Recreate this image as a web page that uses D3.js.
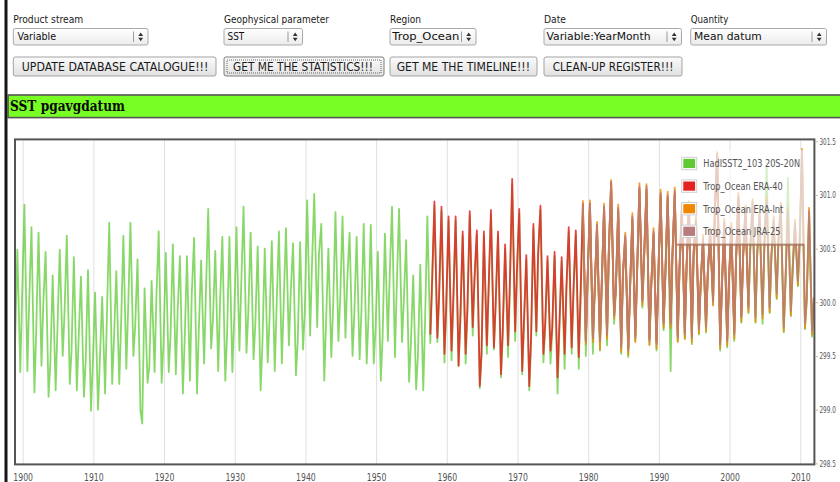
<!DOCTYPE html>
<html>
<head>
<meta charset="utf-8">
<script src="https://cdn.jsdelivr.net/npm/d3@7"></script>
<style>
  html, body { margin: 0; padding: 0; background: #fff; overflow: hidden; }
  svg { display: block; }
</style>
</head>
<body>
<svg id="page" width="840" height="482"></svg>
<script>
// ---------- texts ----------
const fieldLabels = ["Product stream", "Geophysical parameter", "Region", "Date", "Quantity"];
const fieldValues = ["Variable", "SST", "Trop_Ocean", "Variable:YearMonth", "Mean datum"];
const buttonLabels = ["UPDATE DATABASE CATALOGUE!!!", "GET ME THE STATISTICS!!!", "GET ME THE TIMELINE!!!", "CLEAN-UP REGISTER!!!"];
const panelTitle = "SST pgavgdatum";
const seriesNames = ["HadISST2_103 20S-20N", "Trop_Ocean ERA-40", "Trop_Ocean ERA-Int", "Trop_Ocean JRA-25"];

// ---------- axis ticks ----------
const yTicks = [298.5, 299.0, 299.5, 300.0, 300.5, 301.0, 301.5];
const xTickYears = [1900, 1910, 1920, 1930, 1940, 1950, 1960, 1970, 1980, 1990, 2000, 2010];
const xDomainStart = [1898, 11];   // year, month index
const xDomainEnd = [2012, 1];

// ---------- data: mean SST (K), one row per year = [April, September, December] ----------
const sampleMonths = [3, 8, 11];

const hadisstFirstYear = 1898;
const hadisst = [
  [null, null, 299.58],
  [300.49, 299.35, 300.04], [300.91, 299.36, 299.99], [300.70, 299.16, 299.72], [300.65, 299.41, 299.98], [300.47, 299.12, 299.43],
  [300.25, 299.18, 299.74], [300.49, 299.50, 299.89], [300.62, 299.24, 299.55], [300.42, 299.18, 299.65], [300.24, 299.12, 299.45],
  [300.30, 298.99, 299.41], [300.09, 299.00, 299.45], [300.05, 299.15, 299.87], [300.74, 299.24, 299.65], [300.29, 299.24, 299.77],
  [300.62, 299.38, 299.92], [300.74, 299.50, 299.77], [300.40, 298.99, 298.87], [300.13, 299.25, 299.40], [300.20, 299.35, 300.04],
  [300.66, 299.25, 299.60], [300.46, 299.35, 299.69], [300.54, 299.33, 299.90], [300.43, 299.15, 299.64], [300.43, 299.27, 300.06],
  [300.60, 299.15, 299.74], [300.39, 299.43, 300.06], [300.87, 299.57, 299.83], [300.48, 299.36, 299.98], [300.61, 299.27, 299.70],
  [300.61, 299.35, 299.83], [300.70, 299.55, 300.15], [300.89, 299.53, 299.89], [300.65, 299.47, 299.80], [300.52, 299.18, 299.61],
  [300.50, 299.44, 299.83], [300.57, 299.36, 299.94], [300.66, 299.43, 299.97], [300.69, 299.60, 300.08], [300.55, 299.32, 299.64],
  [300.56, 299.56, 299.92], [300.95, 299.69, 300.32], [301.01, 299.77, 300.45], [300.73, 299.27, 299.80], [300.50, 299.49, 299.94],
  [300.84, 299.64, 300.03], [300.80, 299.67, 300.20], [300.65, 299.50, 299.89], [300.61, 299.47, 299.90], [300.73, 299.43, 299.86],
  [300.72, 299.43, 299.75], [300.47, 299.27, 299.67], [300.64, 299.64, 300.23], [300.89, 299.49, 300.14], [300.87, 299.63, 300.01],
  [300.58, 299.26, 299.61], [300.25, 299.19, 299.50], [300.35, 299.18, 299.80], [300.80, 299.62, 300.12],
  [300.90, 299.63, 300.04], [300.85, 299.44, 299.92], [300.76, 299.46, 299.98], [300.76, 299.41, 299.82], [300.62, 299.43, 299.90],
  [300.81, 299.69, 300.18], [300.63, 299.20, 299.50], [300.62, 299.52, 300.10], [300.82, 299.56, 299.96], [300.62, 299.30, 299.70],
  [300.50, 299.49, 300.12], [301.10, 299.64, 300.24], [300.83, 299.33, 299.78], [300.40, 299.18, 299.61], [300.69, 299.69, 300.41],
  [300.86, 299.44, 299.75], [300.39, 299.43, 299.72], [300.43, 299.15, 299.72], [300.38, 299.38, 300.09], [300.66, 299.52, 300.07],
  [300.63, 299.38, 300.01], [300.88, 299.50, 300.18], [300.88, 299.52, 300.07], [300.68, 299.55, 300.13], [300.85, 299.60, 300.43],
  [301.08, 299.80, 300.09], [300.84, 299.52, 300.24], [300.58, 299.49, 300.09], [300.76, 299.64, 300.24], [301.04, 299.95, 300.40],
  [301.04, 299.61, 300.12], [300.62, 299.55, 300.21], [300.98, 299.74, 300.23], [300.96, 299.36, 300.40], [301.00, 299.64, 300.29],
  [300.84, 299.66, 300.30], [300.87, 299.61, 300.43], [300.73, 299.70, 300.15], [300.56, 299.72, 300.24], [300.62, 299.98, 300.83],
  [301.34, 299.55, 300.12], [300.71, 299.58, 300.18], [300.67, 299.64, 300.37], [300.95, 299.81, 300.40], [300.83, 299.90, 300.46],
  [300.89, 299.81, 300.43], [300.78, 299.80, 300.49], [301.27, 299.90, 300.40], [300.73, 300.03, 300.55], [300.86, 299.72, 300.18],
  [301.16, 299.87, 300.27], [300.70, 300.15, 300.55], [301.37, 299.75, 300.00], [300.80, 299.68, 300.00]
];

const era40FirstYear = 1957;
const era40 = [
  [null, 299.70, 300.20],
  [300.94, 299.67, 300.08], [300.89, 299.52, 299.97], [300.80, 299.55, 300.03], [300.80, 299.41, 299.86], [300.66, 299.52, 299.95],
  [300.85, 299.77, 300.23], [300.67, 299.22, 299.55], [300.66, 299.60, 300.14], [300.86, 299.58, 300.01], [300.66, 299.33, 299.75],
  [300.54, 299.60, 300.17], [301.15, 299.73, 300.29], [300.87, 299.36, 299.83], [300.44, 299.22, 299.66], [300.73, 299.73, 300.46],
  [300.90, 299.52, 299.80], [300.43, 299.55, 299.77], [300.47, 299.30, 299.77], [300.42, 299.52, 300.14], [300.70, 299.58, 300.12],
  [300.67, 299.49, 300.06], [300.92, 299.64, 300.23], [300.92, 299.67, 300.12], [300.72, 299.64, 300.18], [300.89, 299.70, 300.48],
  [301.12, 299.88, 300.14], [300.86, 299.60, 300.27], [300.60, 299.57, 300.12], [300.78, 299.69, 300.27], [301.06, 300.03, 300.43],
  [301.05, 299.66, 300.15], [300.64, 299.63, 300.24], [301.00, 299.82, 300.26], [300.98, 299.81, 300.43], [301.02, 299.69, 300.32],
  [300.86, 299.72, 300.33], [300.89, 299.69, 300.46], [300.75, 299.77, 300.18], [300.58, 299.79, 300.27], [300.64, 300.03, 300.86],
  [301.36, 299.63, 300.15], [300.73, 299.66, 300.21], [300.69, 299.72, 300.40], [300.97, 299.88, 300.43], [300.85, 299.97, null]
];

const eraIntFirstYear = 1979;
const eraInt = [
  [300.95, 299.61, 300.21], [300.95, 299.63, 300.10], [300.75, 299.56, 300.16], [300.92, 299.66, 300.46], [301.14, 299.85, 300.12],
  [300.91, 299.54, 300.27], [300.65, 299.51, 300.12], [300.83, 299.63, 300.27], [301.11, 299.97, 300.43], [301.10, 299.60, 300.15],
  [300.69, 299.57, 300.24], [301.05, 299.76, 300.26], [301.03, 299.76, 300.43], [301.07, 299.63, 300.32], [300.91, 299.66, 300.33],
  [300.94, 299.63, 300.46], [300.80, 299.71, 300.18], [300.63, 299.73, 300.27], [300.69, 299.97, 300.86], [301.40, 299.57, 300.15],
  [300.78, 299.60, 300.21], [300.74, 299.66, 300.40], [301.02, 299.82, 300.43], [300.90, 299.91, 300.49], [300.96, 299.82, 300.46],
  [300.85, 299.85, 300.52], [300.98, 299.91, 300.43], [300.80, 300.04, 300.58], [300.93, 299.73, 300.21], [300.88, 299.88, 300.30],
  [300.77, 300.16, 300.58], [301.43, 299.76, 300.03], [300.88, 299.70, 300.03]
];

const jra25FirstYear = 1979;
const jra25 = [
  [300.92, 299.64, 300.23], [300.92, 299.67, 300.12], [300.72, 299.64, 300.18], [300.89, 299.70, 300.48], [301.12, 299.88, 300.14],
  [300.88, 299.58, 300.29], [300.62, 299.55, 300.14], [300.80, 299.67, 300.29], [301.08, 300.01, 300.45], [301.08, 299.64, 300.17],
  [300.66, 299.61, 300.26], [301.02, 299.80, 300.28], [301.00, 299.80, 300.45], [301.04, 299.67, 300.34], [300.88, 299.70, 300.35],
  [300.91, 299.67, 300.48], [300.77, 299.75, 300.20], [300.60, 299.77, 300.29], [300.66, 300.01, 300.88], [301.38, 299.61, 300.17],
  [300.75, 299.64, 300.23], [300.71, 299.70, 300.42], [300.99, 299.86, 300.45], [300.87, 299.95, 300.51], [300.93, 299.86, 300.48],
  [300.82, 299.89, 300.54], [300.95, 299.95, 300.45], [300.77, 300.08, 300.60], [300.90, 299.77, 300.23], [300.85, 299.92, 300.32],
  [300.74, 300.20, 300.60], [301.41, 299.80, 300.05], [300.85, 299.74, 300.05]
];

// ---------- styling & layout ----------
const seriesColors = ["#5fcb34", "#e32222", "#ee8800", "#b77c7c"];
const seriesOpacity = [0.74, 0.84, 0.8, 0.82];
const uiFont = "'DejaVu Sans', 'Liberation Sans', sans-serif";

const fieldLayout = {
  labelX: [13.3, 224, 390, 544, 690.7], labelW: [70, 105, 31, 22, 37.7],
  boxX0: [13.3, 224, 390, 544, 690.7], boxX1: [148, 302.5, 476, 681.5, 826.5],
  valueX: [17.5, 227.5, 392.3, 546.5, 694], valueW: [38.5, 16.7, 67, 104, 67.7]
};
const buttonLayout = {
  x0: [13.3, 224, 390, 544], x1: [216, 384, 537, 682],
  textX: [21.7, 233, 396.7, 552.7], textW: [186.7, 140, 133.3, 120.7]
};
const plot = { x0: 15, x1: 815, yTop: 141.3, yBottom: 463.3 };

const svg = d3.select("#page");
const fit = (sel, w) => sel.attr("textLength", w).attr("lengthAdjust", "spacingAndGlyphs");

// gradients for the form controls
const defs = svg.append("defs");
function vGrad(id, c0, c1) {
  const g = defs.append("linearGradient").attr("id", id).attr("x1", 0).attr("y1", 0).attr("x2", 0).attr("y2", 1);
  g.append("stop").attr("offset", "0%").attr("stop-color", c0);
  g.append("stop").attr("offset", "100%").attr("stop-color", c1);
}
vGrad("selGrad", "#ffffff", "#ebebeb");
vGrad("btnGrad", "#fbfbfb", "#e1e1e1");
defs.append("clipPath").attr("id", "plotClip").append("rect")
  .attr("x", plot.x0).attr("y", plot.yTop - 1.5)
  .attr("width", plot.x1 - plot.x0).attr("height", plot.yBottom - plot.yTop + 2);

svg.append("rect").attr("width", 840).attr("height", 482).attr("fill", "#fff");

// page edge bar
svg.append("rect").attr("x", 4.5).attr("y", 0).attr("width", 3).attr("height", 482).attr("fill", "#161616");

// ---------- form: labels + drop-downs ----------
const fields = svg.append("g").attr("font-family", uiFont);
fieldLabels.forEach((t, i) => {
  fit(fields.append("text").attr("x", fieldLayout.labelX[i]).attr("y", 22.8)
    .attr("font-size", 10.5).attr("fill", "#1a1a1a").text(t), fieldLayout.labelW[i]);

  const x0 = fieldLayout.boxX0[i], x1 = fieldLayout.boxX1[i];
  fields.append("rect").attr("x", x0).attr("y", 28.5).attr("width", x1 - x0).attr("height", 16.5)
    .attr("rx", 2).attr("fill", "url(#selGrad)").attr("stroke", "#a9a9a9");
  fields.append("line").attr("x1", x1 - 14.5).attr("x2", x1 - 14.5).attr("y1", 31.5).attr("y2", 42)
    .attr("stroke", "#9a9a9a");
  const cx = x1 - 7.3, cy = 36.8;
  fields.append("path")
    .attr("d", `M${cx - 2.4},${cy - 0.9}L${cx + 2.4},${cy - 0.9}L${cx},${cy - 4.4}Z M${cx - 2.4},${cy + 0.9}L${cx + 2.4},${cy + 0.9}L${cx},${cy + 4.4}Z`)
    .attr("fill", "#333");
  fit(fields.append("text").attr("x", fieldLayout.valueX[i]).attr("y", 40.3)
    .attr("font-size", 10.5).attr("fill", "#111").text(fieldValues[i]), fieldLayout.valueW[i]);
});

// ---------- form: buttons ----------
const buttons = svg.append("g").attr("font-family", uiFont);
buttonLabels.forEach((t, i) => {
  const x0 = buttonLayout.x0[i], x1 = buttonLayout.x1[i];
  buttons.append("rect").attr("x", x0).attr("y", 57).attr("width", x1 - x0).attr("height", 19)
    .attr("rx", 2).attr("fill", "url(#btnGrad)").attr("stroke", i === 1 ? "#7d7d7d" : "#a3a3a3");
  if (i === 1) {
    buttons.append("rect").attr("x", x0 + 3).attr("y", 60).attr("width", x1 - x0 - 6).attr("height", 13)
      .attr("fill", "none").attr("stroke", "#444").attr("stroke-width", 0.8).attr("stroke-dasharray", "1,1");
  }
  fit(buttons.append("text").attr("x", buttonLayout.textX[i]).attr("y", 70.8)
    .attr("font-size", 12.2).attr("fill", "#1a1a1a").text(t), buttonLayout.textW[i]);
});

// ---------- panel header ----------
svg.append("rect").attr("x", 8).attr("y", 95).attr("width", 840).attr("height", 22.6)
  .attr("fill", "#78fe24").attr("stroke", "#565656").attr("stroke-width", 1.6);
fit(svg.append("text").attr("x", 10).attr("y", 111.2)
  .attr("font-family", "'DejaVu Serif', 'Liberation Serif', serif").attr("font-weight", "bold")
  .attr("font-size", 15).attr("fill", "#0a0a0a").text(panelTitle), 115);

// ---------- chart ----------
const x = d3.scaleTime()
  .domain([new Date(xDomainStart[0], xDomainStart[1], 1), new Date(xDomainEnd[0], xDomainEnd[1], 1)])
  .range([plot.x0, plot.x1]);
const y = d3.scaleLinear().domain([298.5, 301.5]).range([plot.yBottom, plot.yTop]);
const xTickDates = xTickYears.map(yr => new Date(yr, 0, 1));

// vertical grid
const grid = svg.append("g").attr("transform", `translate(0,${plot.yBottom + 1})`)
  .call(d3.axisBottom(x).tickValues(xTickDates).tickFormat("").tickSize(-(plot.yBottom - plot.yTop + 2)));
grid.select(".domain").remove();
grid.selectAll(".tick line").attr("stroke", "#e0e0e0").attr("stroke-width", 1);

function expand(firstYear, rows) {
  const pts = [];
  rows.forEach((row, i) => row.forEach((v, j) => {
    if (v != null) pts.push({ date: new Date(firstYear + i, sampleMonths[j], 1), value: v });
  }));
  return pts;
}
const series = [
  expand(hadisstFirstYear, hadisst),
  expand(era40FirstYear, era40),
  expand(eraIntFirstYear, eraInt),
  expand(jra25FirstYear, jra25)
];
const line = d3.line().x(d => x(d.date)).y(d => y(d.value));
const lines = svg.append("g").attr("clip-path", "url(#plotClip)");
series.forEach((pts, i) => {
  lines.append("path").attr("d", line(pts)).attr("fill", "none")
    .attr("stroke", seriesColors[i]).attr("stroke-width", 1.8)
    .attr("stroke-opacity", seriesOpacity[i]).attr("stroke-linejoin", "round");
});

// legend (inside plot, top right)
const legend = svg.append("g").attr("font-family", uiFont);
legend.append("rect").attr("x", 677).attr("y", 150).attr("width", 128).attr("height", 94)
  .attr("fill", "#fff").attr("fill-opacity", 0.62);
legend.append("rect").attr("x", 677).attr("y", 243.6).attr("width", 127).attr("height", 2.2)
  .attr("fill", "#a57560").attr("fill-opacity", 0.8);
const legendW = [96.7, 79.3, 80, 77.3];
seriesNames.forEach((name, i) => {
  const ty = 157.3 + i * 22.6;
  legend.append("rect").attr("x", 681.7).attr("y", ty).attr("width", 15).attr("height", 12.4)
    .attr("fill", "#fff").attr("stroke", "#cfcfcf").attr("stroke-width", 1);
  legend.append("rect").attr("x", 683.3).attr("y", ty + 1.6).attr("width", 11.8).attr("height", 9.2)
    .attr("fill", seriesColors[i]);
  fit(legend.append("text").attr("x", 703.3).attr("y", ty + 10)
    .attr("font-size", 10).attr("fill", "#545454").text(name), legendW[i]);
});

// frame
svg.append("rect").attr("x", 15).attr("y", 139.4).attr("width", 799.4).attr("height", 325)
  .attr("fill", "none").attr("stroke", "#555").attr("stroke-width", 2);

// x axis labels
const xAxis = svg.append("g").attr("transform", "translate(0,473.6)")
  .call(d3.axisBottom(x).tickValues(xTickDates).tickFormat(d3.timeFormat("%Y")).tickSize(0).tickPadding(0));
xAxis.select(".domain").remove();
xAxis.selectAll("text").attr("font-family", uiFont).attr("font-size", 10).attr("fill", "#545454")
  .attr("textLength", 19.7).attr("lengthAdjust", "spacingAndGlyphs");

// y axis on the right; compact labels kept inside the page
const yAxis = svg.append("g").attr("transform", "translate(815.4,0)")
  .call(d3.axisRight(y).tickValues(yTicks).tickFormat(d3.format(".1f")).tickSize(2.5).tickPadding(0.8));
yAxis.select(".domain").remove();
yAxis.selectAll(".tick line").attr("stroke", "#b8b8b8");
yAxis.selectAll("text").attr("font-family", uiFont).attr("font-size", 8.6).attr("fill", "#545454")
  .attr("text-anchor", "end").attr("x", 20.4)
  .attr("textLength", 16.4).attr("lengthAdjust", "spacingAndGlyphs");
</script>
</body>
</html>
